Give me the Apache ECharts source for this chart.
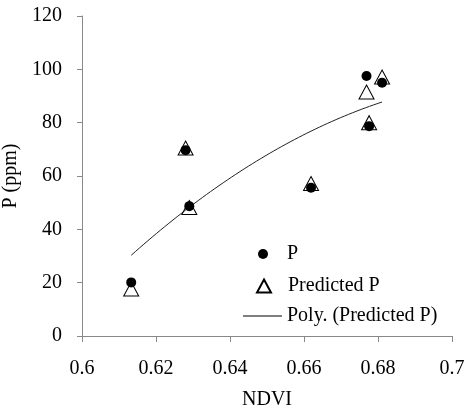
<!DOCTYPE html>
<html>
<head>
<meta charset="utf-8">
<script src="https://cdn.jsdelivr.net/npm/echarts@6/dist/echarts.min.js"></script>
<style>
  html, body { margin: 0; padding: 0; background: #fff; }
  #chart { width: 464px; height: 411px; }
</style>
</head>
<body>
<div id="chart"></div>
<script>
// values
const ndvi = [0.6133, 0.628, 0.629, 0.6619, 0.6769, 0.6776, 0.6811]
const pObserved = [20.1, 69.7, 48.7, 55.6, 97.5, 78.7, 95.0]
const pPredicted = [17.6, 70.5, 48.2, 57.2, 91.5, 80.0, 97.1]
const xTicks = [0.6, 0.62, 0.64, 0.66, 0.68, 0.7]
const yTicks = [0, 20, 40, 60, 80, 100, 120]

const font = "'Liberation Serif', 'Times New Roman', serif"
const axisGrey = '#888888'

// 2nd order least squares fit, like the spreadsheet "Poly." trendline
function polyFit2(xs, ys) {
  let s = [0, 0, 0, 0, 0], t = [0, 0, 0]
  for (let i = 0; i < xs.length; i++) {
    let x = xs[i] - 0.65, p = 1
    for (let k = 0; k < 5; k++) { s[k] += p; if (k < 3) t[k] += p * ys[i]; p *= x }
  }
  let m = [[s[0], s[1], s[2], t[0]], [s[1], s[2], s[3], t[1]], [s[2], s[3], s[4], t[2]]]
  for (let c = 0; c < 3; c++) {
    for (let r = c + 1; r < 3; r++) {
      let f = m[r][c] / m[c][c]
      for (let k = c; k < 4; k++) m[r][k] -= f * m[c][k]
    }
  }
  let a = [0, 0, 0]
  for (let r = 2; r >= 0; r--) {
    let v = m[r][3]
    for (let k = r + 1; k < 3; k++) v -= m[r][k] * a[k]
    a[r] = v / m[r][r]
  }
  return x => a[0] + a[1] * (x - 0.65) + a[2] * (x - 0.65) * (x - 0.65)
}

const fit = polyFit2(ndvi, pPredicted)
const xLo = Math.min(...ndvi), xHi = Math.max(...ndvi)
let trend = []
for (let i = 0; i <= 60; i++) {
  let x = xLo + (xHi - xLo) * i / 60
  trend.push([x, fit(x)])
}

const mydom = echarts.init(document.getElementById('chart'))
const legendText = { fontFamily: font, fontSize: 20, color: '#000' }
const option = {
  animation: false,
  backgroundColor: '#fff',
  grid: { left: 82, right: 12, top: 16, bottom: 75, outerBoundsMode: 'none' },
  legend: [
    {
      orient: 'vertical', selectedMode: false, padding: 0,
      data: ['P'], left: 258, top: 244, itemWidth: 10, itemHeight: 10,
      textStyle: Object.assign({}, legendText, { padding: [0, 0, 0, 14] })
    },
    {
      orient: 'vertical', selectedMode: false, padding: 0,
      data: ['Predicted P'], left: 256, top: 276, itemWidth: 14, itemHeight: 13,
      textStyle: Object.assign({}, legendText, { padding: [0, 0, 0, 12] })
    },
    {
      orient: 'vertical', selectedMode: false, padding: 0,
      data: [{ name: 'Poly. (Predicted P)', icon: 'rect' }],
      left: 243, top: 306, itemWidth: 39, itemHeight: 1,
      itemStyle: { color: '#000' },
      textStyle: legendText
    }
  ],
  xAxis: {
    type: 'value',
    min: 0.6,
    max: 0.7,
    interval: 0.02,
    name: 'NDVI',
    nameLocation: 'middle',
    nameGap: 54,
    nameTextStyle: { fontFamily: font, fontSize: 20, color: '#000' },
    axisLine: { lineStyle: { color: axisGrey } },
    axisTick: { show: true, length: 6, lineStyle: { color: axisGrey } },
    axisLabel: {
      margin: 23,
      fontFamily: font,
      fontSize: 20,
      color: '#000',
      formatter: v => String(+v.toFixed(2))
    },
    splitLine: { show: false }
  },
  yAxis: {
    type: 'value',
    min: 0,
    max: 120,
    interval: 20,
    name: 'P (ppm)',
    nameLocation: 'middle',
    nameGap: 54,
    nameTextStyle: { fontFamily: font, fontSize: 20, color: '#000' },
    axisLine: { show: true, lineStyle: { color: axisGrey } },
    axisTick: { show: true, length: 5, lineStyle: { color: axisGrey } },
    axisLabel: { margin: 20, fontFamily: font, fontSize: 20, color: '#000' },
    splitLine: { show: false }
  },
  series: [
    {
      name: 'P',
      type: 'scatter',
      symbol: 'circle',
      symbolSize: 10,
      itemStyle: { color: '#000', opacity: 1 },
      data: ndvi.map((x, i) => [x, pObserved[i]]),
      z: 2
    },
    {
      name: 'Predicted P',
      type: 'scatter',
      symbol: 'triangle',
      symbolSize: [15, 14],
      itemStyle: { color: 'rgba(255,255,255,0)', borderColor: '#000', borderWidth: 1, opacity: 1 },
      data: ndvi.map((x, i) => [x, pPredicted[i]]),
      z: 3
    },
    {
      name: 'Poly. (Predicted P)',
      type: 'line',
      symbol: 'none',
      lineStyle: { color: '#222', width: 1 },
      itemStyle: { color: '#000' },
      data: trend,
      z: 1
    }
  ]
}
mydom.setOption(option)
</script>
</body>
</html>
